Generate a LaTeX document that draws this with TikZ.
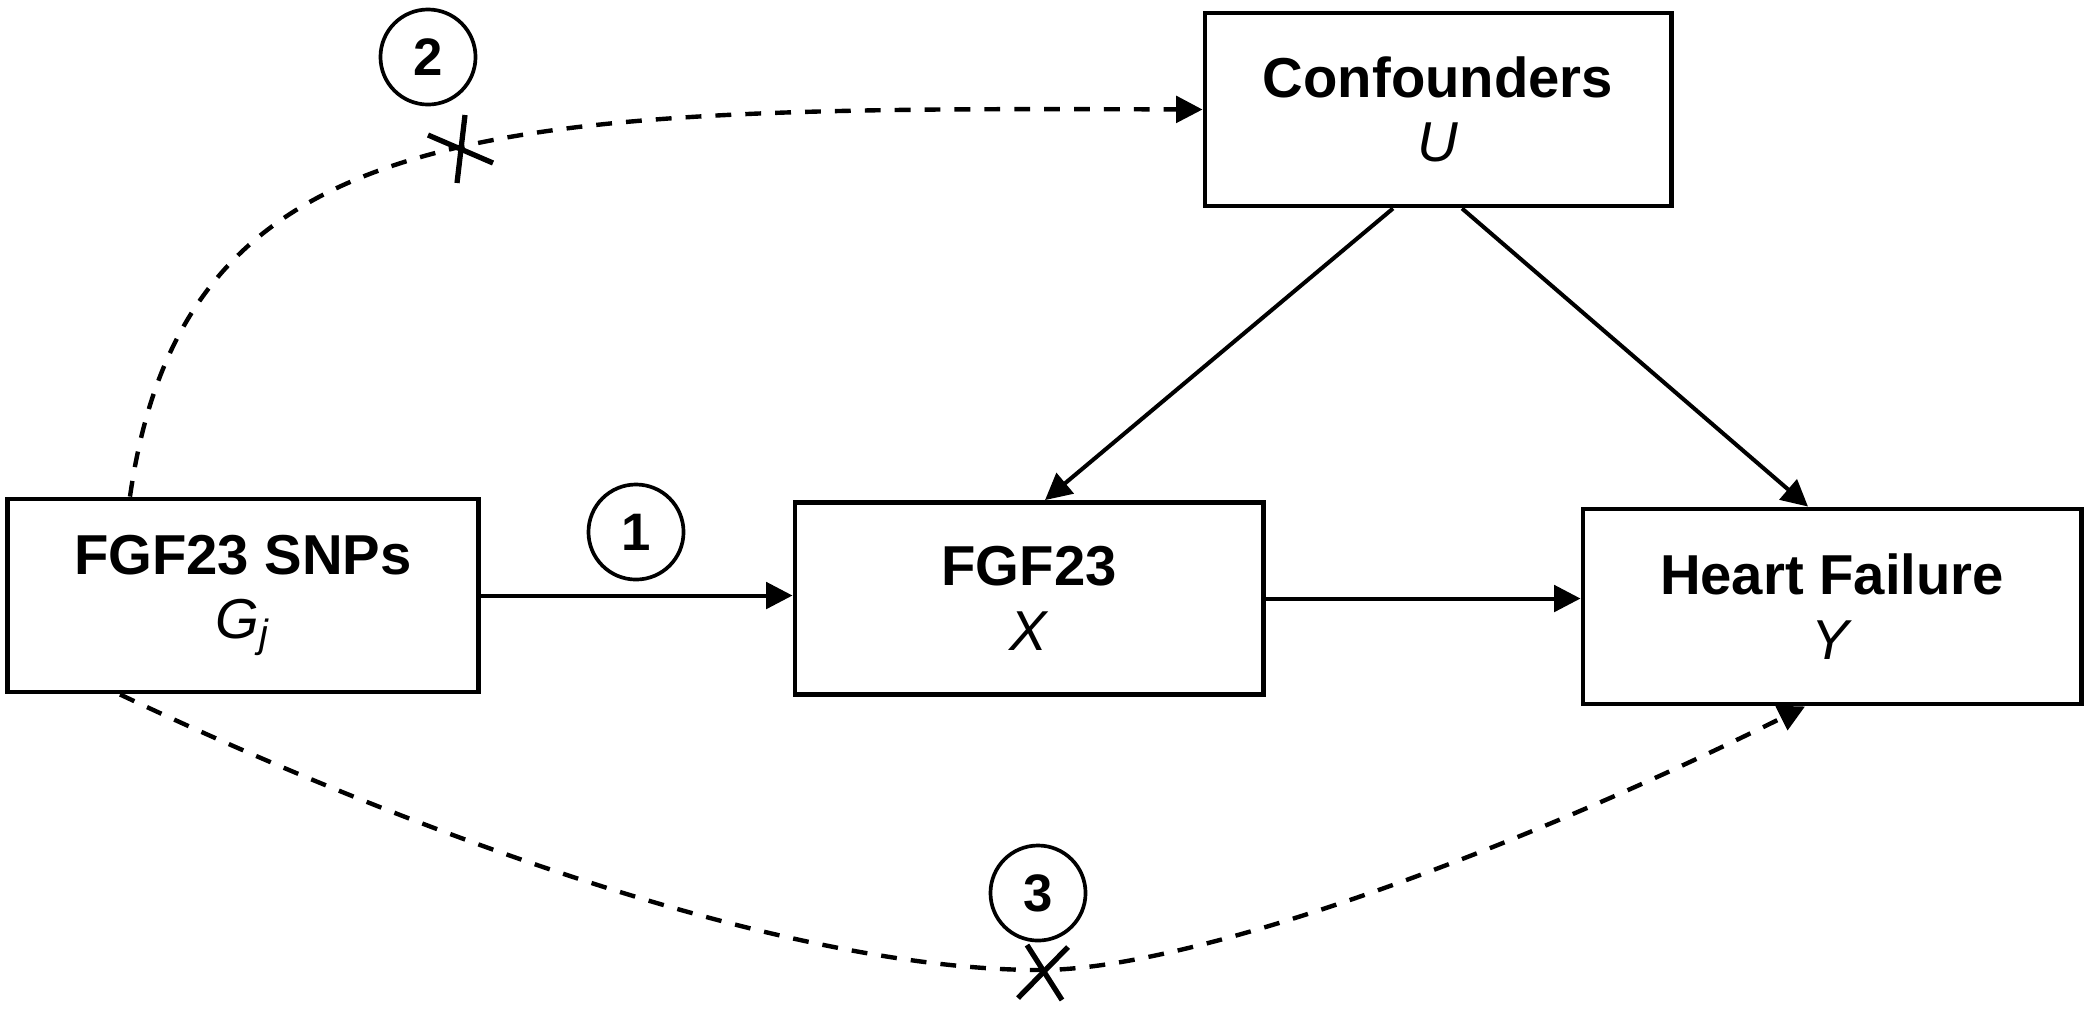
\documentclass[tikz,border=0pt]{standalone}
\usepackage{fontspec}
\setmainfont{Liberation Sans}
\usetikzlibrary{arrows.meta,calc}
\begin{document}
\begin{tikzpicture}[x=0.01cm,y=-0.01cm,
  box/.style={draw, line width=1.35pt, minimum width=4.68cm, minimum height=1.92cm,
    inner sep=0pt, align=center, font=\fontsize{16pt}{18.4pt}\selectfont},
  num/.style={draw, circle, line width=1.05pt, minimum size=0.95cm, inner sep=0pt,
    font=\fontsize{15pt}{17pt}\selectfont\bfseries},
  conn/.style={line width=1.15pt, -{Triangle[length=7.5pt,width=7.5pt]}},
  dconn/.style={conn, line width=1.25pt, dash pattern=on 4.5pt off 4pt},
  cross/.style={line width=1.5pt}]
\path[use as bounding box] (0,0) rectangle (2092,1011);

% boxes
\node[box, minimum width=4.70cm, minimum height=1.93cm] (snp) at (243,595.5)
  {\textbf{FGF23 SNPs}\\\textit{G}\textsubscript{\textit{j}}};
\node[box] (fgf) at (1029,598.5) {\textbf{FGF23}\\\textit{X}};
\node[box, minimum width=4.98cm, minimum height=1.95cm] (hf) at (1832,606.5)
  {\textbf{Heart Failure}\\\textit{Y}};
\node[box, minimum width=4.66cm, minimum height=1.93cm] (conf) at (1438,109.5)
  {\textbf{Confounders}\\\textit{U}};

% numbered circles
\node[num] (c1) at (636,532) {1};
\node[num] (c2) at (428,57) {2};
\node[num] (c3) at (1038,893) {3};

% solid connectors
\draw[conn] (snp.east) -- (snp.east -| fgf.west);
\draw[conn] (fgf.east) -- (fgf.east -| hf.west);
\draw[conn] ($(conf.south)+(-45,0)$) -- ($(fgf.north)+(16,0)$);
\draw[conn] ($(conf.south)+(24,0)$) -- ($(hf.north)+(-24,0)$);

% dashed connectors
\draw[dconn] ($(snp.north)+(-113,0)$) .. controls (185,110) and (500,107) .. (conf.west);
\coordinate (m3) at (1040,970);
\draw[dconn] ($(snp.south)+(-123,0)$) .. controls (420,836) and (790,970) .. (m3)
  .. controls (1190,970) and (1505,855) .. ($(hf.south)+(-27,0)$);

% crosses
\draw[cross] (428,135) -- (493,163);
\draw[cross] (465,115) -- (457,183);
\draw[cross] (1027,945) -- (1062,1000);
\draw[cross] (1068,947) -- (1018,998);
\end{tikzpicture}
\end{document}
